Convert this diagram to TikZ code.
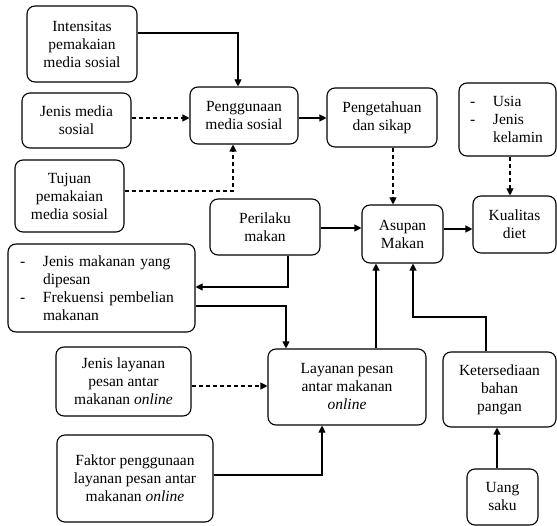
\documentclass[tikz,border=0pt]{standalone}
\usepackage{fontspec}
\setmainfont{Liberation Serif}
\newfontfamily\tnrfont{Liberation Serif}
\usetikzlibrary{arrows.meta,calc}
\begin{document}
\begin{tikzpicture}[x=1pt,y=-1pt,
  box/.style={draw,line width=1.1pt,rounded corners=8pt,align=center,inner sep=2pt,
    font=\tnrfont\fontsize{15.5}{18}\selectfont},
  listbox/.style={box,align=left},
  arr/.style={line width=1.1pt,-{Triangle[length=7pt,width=7pt]}},
  darr/.style={arr,dash pattern=on 4pt off 3pt},
  plain/.style={line width=1.1pt}]
\useasboundingbox (0,0) rectangle (557,526);
\newcommand{\dsh}[1]{\makebox[#1][l]{-}}
% nodes
\node[box,minimum width=110pt,minimum height=76pt] (int) at (82,44) {Intensitas\\pemakaian\\media sosial};
\node[box,minimum width=109pt,minimum height=55pt] (jms) at (76.5,120.5) {Jenis media\\sosial};
\node[box,minimum width=109pt,minimum height=72pt] (tuj) at (69.5,196) {Tujuan\\pemakaian\\media sosial};
\node[box,minimum width=108pt,minimum height=57pt] (pmed) at (244,115.5) {Penggunaan\\media sosial};
\node[box,minimum width=110pt,minimum height=59pt] (peng) at (382,117.5) {Pengetahuan\\dan sikap};
\node[listbox,minimum height=73pt,inner xsep=11pt,text width=75pt] (usia) at (507.5,119.5)
  {\dsh{23pt}Usia\\\dsh{23pt}Jenis\\\hspace*{23pt}kelamin};
\node[box,minimum width=110pt,minimum height=56pt] (per) at (265,227) {Perilaku\\makan};
\node[box,minimum width=81pt,minimum height=58pt] (asu) at (402.5,234) {Asupan\\Makan};
\node[box,minimum width=83pt,minimum height=57pt] (kual) at (514.5,224.5) {Kualitas\\diet};
\node[listbox,minimum height=88pt,inner xsep=12pt,text width=163pt] (jmk) at (101.5,288)
  {\dsh{23pt}Jenis makanan yang\\\hspace*{23pt}dipesan\\\dsh{23pt}Frekuensi pembelian\\\hspace*{23pt}makanan};
\node[box,minimum width=135pt,minimum height=69pt] (jl) at (123.5,381.5) {Jenis layanan\\pesan antar\\makanan \textit{online}};
\node[box,minimum width=158pt,minimum height=76pt] (lay) at (347,387) {Layanan pesan\\antar makanan\\\textit{online}};
\node[box,minimum width=113pt,minimum height=75pt] (ket) at (499.5,389.5) {Ketersediaan\\bahan\\pangan};
\node[box,minimum width=156pt,minimum height=87pt] (fak) at (135,478.5) {Faktor penggunaan\\layanan pesan antar\\makanan \textit{online}};
\node[box,minimum width=71pt,minimum height=56pt] (uang) at (502.5,497) {Uang\\saku};
% connectors
\draw[arr] (int.east |- 0,33) -| (pmed.north -| 238,0);
\draw[darr] (jms.east |- 0,118) -- (pmed.west |- 0,118);
\draw[darr] (tuj.east |- 0,191) -| (pmed.south -| 233,0);
\draw[arr] (pmed.east |- 0,118) -- (peng.west |- 0,118);
\draw[darr] (peng.south -| 393,0) -- (asu.north -| 393,0);
\draw[darr] (usia.south -| 510,0) -- (kual.north -| 510,0);
\draw[arr] (per.east |- 0,228) -- (asu.west |- 0,228);
\draw[arr] (asu.east |- 0,229) -- (kual.west |- 0,229);
\draw[arr] (per.south -| 288,0) |- (jmk.east |- 0,287);
\draw[arr] (jmk.east |- 0,306) -| (lay.north -| 286,0);
\draw[darr] (jl.east |- 0,386) -- (lay.west |- 0,386);
\draw[arr] (fak.east |- 0,475) -| (lay.south -| 322,0);
\draw[arr] (lay.north -| 376,0) -- (asu.south -| 376,0);
\coordinate (kbend) at (413,317);
\draw[arr] (ket.north -| 486,0) |- (kbend) -- (asu.south -| 413,0);
\draw[arr] (uang.north -| 497,0) -- (ket.south -| 497,0);
\end{tikzpicture}
\end{document}
